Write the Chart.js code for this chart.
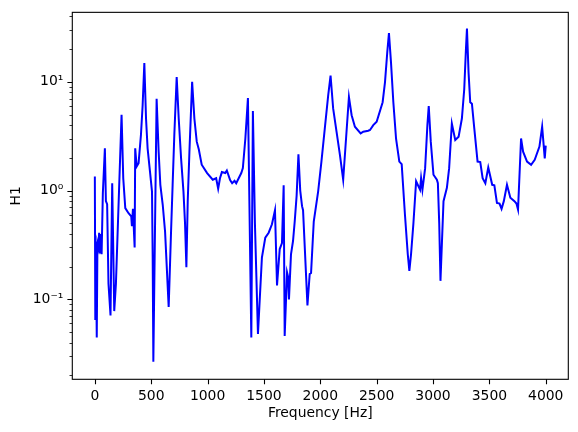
<!DOCTYPE html>
<html>
<head>
<meta charset="utf-8">
<script src="https://cdn.jsdelivr.net/npm/chart.js@4/dist/chart.umd.min.js"></script>
<style>
    html, body { margin: 0; padding: 0; background: #fff; }
    #grafico { display: block; }
</style>
</head>
<body>
<canvas id="grafico" width="578" height="432"></canvas>
<script>
const frecuencias = [
    0, 4, 9, 17, 23, 32, 38, 46, 52, 60, 71, 89, 98, 109, 121, 139, 154, 172, 187, 237,
    252, 270, 299, 323, 329, 338, 353, 358, 371, 388, 409, 424, 439, 454, 468, 489, 507, 513, 519, 548,
    566, 581, 602, 623, 655, 676, 690, 705, 726, 744, 765, 786, 800, 812, 824, 839, 863, 883, 904, 922,
    948, 996, 1046, 1076, 1094, 1110, 1127, 1157, 1171, 1200, 1218, 1239, 1254, 1299, 1313, 1335, 1358, 1388, 1402, 1420,
    1447, 1482, 1512, 1542, 1571, 1598, 1616, 1640, 1660, 1675, 1684, 1705, 1715, 1722, 1740, 1758, 1773, 1790, 1806, 1822,
    1838, 1847, 1886, 1906, 1918, 1942, 1981, 2010, 2040, 2070, 2091, 2114, 2144, 2174, 2203, 2254, 2278, 2307, 2358, 2381,
    2425, 2441, 2470, 2500, 2553, 2574, 2594, 2609, 2627, 2648, 2672, 2701, 2722, 2751, 2776, 2790, 2805, 2826, 2850, 2885,
    2894, 2906, 2930, 2950, 2962, 2980, 3004, 3034, 3043, 3055, 3066, 3093, 3123, 3143, 3167, 3197, 3227, 3256, 3277, 3292,
    3301, 3315, 3330, 3345, 3366, 3395, 3419, 3440, 3464, 3490, 3525, 3544, 3567, 3590, 3608, 3628, 3656, 3686, 3722, 3740,
    3754, 3781, 3799, 3834, 3870, 3902, 3944, 3968, 3991, 4000
];
const valoresH1 = [
    1.35, 0.066, 0.34, 0.0445, 0.33, 0.30, 0.41, 0.27, 0.40, 0.26, 0.95, 2.45, 0.80, 0.75, 0.139, 0.071, 1.17, 0.078, 0.139, 4.99,
    1.30, 0.69, 0.62, 0.58, 0.47, 0.68, 0.30, 2.45, 1.67, 1.79, 3.25, 6.1, 14.9, 4.6, 2.45, 1.50, 0.98, 0.25, 0.0267, 7.0,
    2.28, 1.13, 0.745, 0.42, 0.085, 0.42, 1.13, 3.25, 11.1, 4.6, 1.98, 0.985, 0.5, 0.197, 0.80, 2.28, 10, 4.6, 2.82, 2.4,
    1.73, 1.45, 1.26, 1.3, 1.04, 1.3, 1.48, 1.45, 1.53, 1.25, 1.17, 1.23, 1.17, 1.45, 1.61, 3.0, 7.1, 0.0445, 5.4, 0.5,
    0.048, 0.242, 0.369, 0.41, 0.49, 0.66, 0.134, 0.29, 0.33, 1.12, 0.046, 0.177, 0.16, 0.1, 0.26, 0.344, 0.52, 0.9, 2.16, 1.0,
    0.72, 0.66, 0.088, 0.171, 0.175, 0.52, 0.985, 1.85, 3.73, 7.5, 11.4, 5.7, 3.48, 2.13, 1.26, 7.26, 4.94, 3.87, 3.36, 3.48,
    3.55, 3.61, 4.0, 4.3, 6.5, 9.96, 18.7, 28.1, 15.2, 6.5, 3.0, 1.85, 1.75, 0.6, 0.26, 0.183, 0.26, 0.5, 1.22, 1.02,
    1.3, 1.02, 1.61, 4.0, 6.0, 2.82, 1.40, 1.26, 1.17, 0.5, 0.148, 0.8, 1.06, 1.61, 4.14, 2.92, 3.13, 4.6, 8.6, 20,
    31, 12.3, 6.5, 6.3, 3.73, 1.85, 1.83, 1.30, 1.17, 1.63, 1.13, 1.12, 0.77, 0.76, 0.68, 0.8, 1.13, 0.86, 0.8, 0.76,
    0.67, 3.02, 2.28, 1.85, 1.73, 1.92, 2.54, 3.87, 1.98, 2.59
];
const ticksX = [0, 500, 1000, 1500, 2000, 2500, 3000, 3500, 4000];
const ticksYMayores = [0.1, 1, 10];
const etiquetasY = ['10⁻¹', '10⁰', '10¹'];
const ticksYMenores = [0.02, 0.03, 0.04, 0.05, 0.06, 0.07, 0.08, 0.09,
    0.2, 0.3, 0.4, 0.5, 0.6, 0.7, 0.8, 0.9, 2, 3, 4, 5, 6, 7, 8, 9, 20, 30, 40];

const fuente = {family: 'DejaVu Sans', size: 13.9};

// marco completo y marcas de los ejes, como en matplotlib
const marcoEjes = {
    id: 'marcoEjes',
    afterDraw(chart) {
        const {ctx, chartArea: area, scales: {x, y}} = chart;
        ctx.save();
        ctx.strokeStyle = '#000';
        ctx.lineWidth = 1.1;
        ctx.strokeRect(area.left, area.top, area.right - area.left, area.bottom - area.top);

        ctx.beginPath();
        ticksX.forEach(v => {
            const px = Math.round(x.getPixelForValue(v)) + 0.5;
            ctx.moveTo(px, area.bottom);
            ctx.lineTo(px, area.bottom + 4.9);
        });
        ticksYMayores.forEach(v => {
            const py = Math.round(y.getPixelForValue(v)) + 0.5;
            ctx.moveTo(area.left, py);
            ctx.lineTo(area.left - 4.9, py);
        });
        ctx.stroke();

        ctx.beginPath();
        ctx.lineWidth = 0.8;
        ticksYMenores.forEach(v => {
            const py = Math.round(y.getPixelForValue(v)) + 0.5;
            ctx.moveTo(area.left, py);
            ctx.lineTo(area.left - 2.8, py);
        });
        ctx.stroke();
        ctx.restore();
    }
};

window.addEventListener('load', () => {
    const puntos = frecuencias.map((f, i) => ({x: f, y: valoresH1[i]}));

    new Chart(document.querySelector('#grafico'), {
        type: 'line',
        data: {
            datasets: [{
                data: puntos,
                borderColor: '#0000ff',
                borderWidth: 2,
                pointRadius: 0,
                tension: 0,
                fill: false
            }]
        },
        options: {
            responsive: false,
            animation: false,
            events: [],
            layout: {padding: {left: 0.3, right: 9.7, top: 9.7, bottom: 0}},
            plugins: {legend: {display: false}, tooltip: {enabled: false}},
            scales: {
                x: {
                    type: 'linear',
                    min: -200,
                    max: 4200,
                    afterBuildTicks: escala => { escala.ticks = ticksX.map(v => ({value: v})); },
                    afterFit: escala => { escala.height = 52.7; },
                    ticks: {autoSkip: false, maxRotation: 0, color: '#000', font: fuente, padding: 4, callback: v => String(v)},
                    grid: {drawOnChartArea: false, tickLength: 5, tickColor: 'rgba(0,0,0,0)'},
                    border: {display: false},
                    title: {display: true, text: 'Frequency [Hz]', color: '#000', font: fuente, padding: {top: 0, bottom: 10}}
                },
                y: {
                    type: 'logarithmic',
                    min: 0.0184,
                    max: 43.6,
                    afterBuildTicks: escala => { escala.ticks = ticksYMayores.map(v => ({value: v, major: true})); },
                    afterFit: escala => { escala.width = 72; },
                    ticks: {autoSkip: false, color: '#000', font: fuente, padding: 4, callback: (v, i) => etiquetasY[i]},
                    grid: {drawOnChartArea: false, tickLength: 5, tickColor: 'rgba(0,0,0,0)'},
                    border: {display: false},
                    title: {display: true, text: 'H1', color: '#000', font: fuente, padding: {top: 8, bottom: 0}}
                }
            }
        },
        plugins: [marcoEjes]
    });
});
</script>
</body>
</html>
